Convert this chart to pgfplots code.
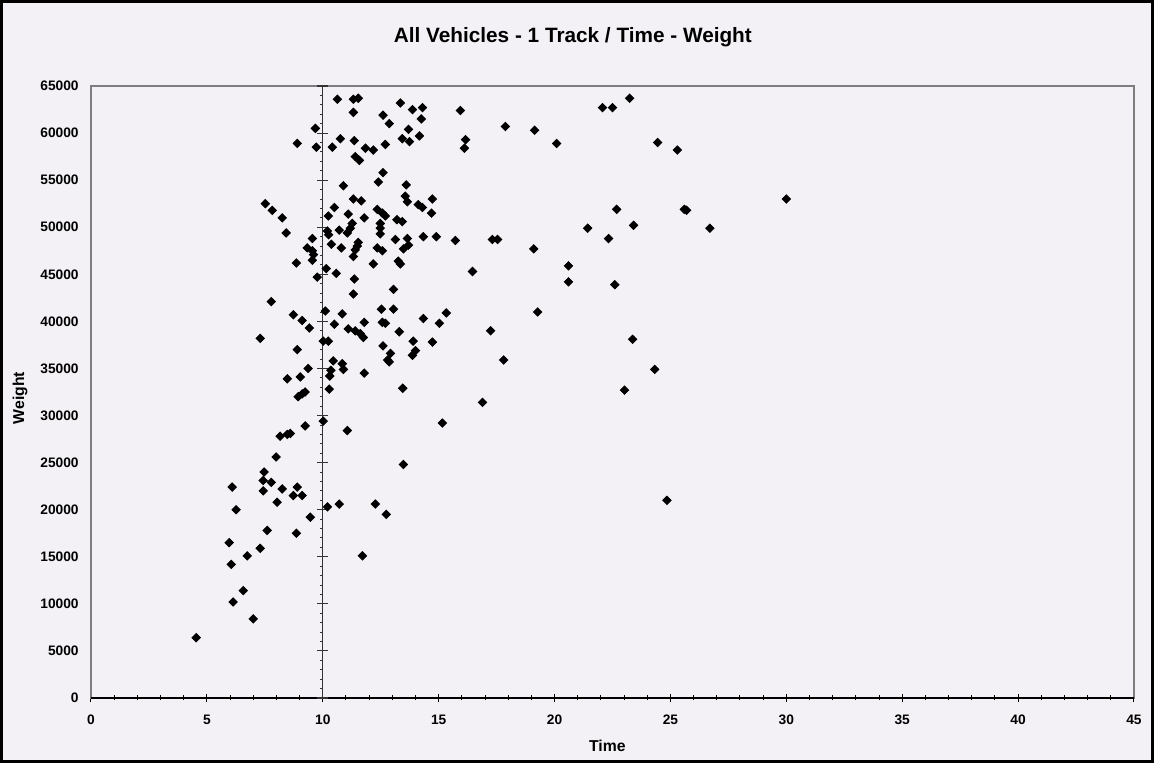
\documentclass[border=0pt]{standalone}
\usepackage{fontspec}
\setmainfont{Liberation Sans}
\usepackage{pgfplots}
\usepackage{pgfplotstable}
\pgfplotsset{compat=1.18}
\definecolor{paper}{RGB}{243,241,245}
\definecolor{framegray}{RGB}{125,125,125}

\pgfplotstableread{
x y
4.54 6400
5.96 16500
6.05 14200
6.09 22400
6.13 10200
6.26 20000
6.57 11400
6.74 15100
7.00 8400
7.30 15900
7.30 38200
7.43 22000
7.43 23100
7.47 24000
7.60 17800
7.78 22900
7.78 42100
7.99 25600
8.03 20800
8.16 27800
8.25 22200
8.47 28000
8.60 28100
8.73 21500
8.86 17500
8.90 22400
9.11 21500
9.46 19200
9.24 28900
8.94 32000
9.11 32300
9.24 32500
8.47 33900
9.03 34100
9.37 35000
8.90 37000
8.73 40700
9.11 40100
9.42 39300
7.52 52500
7.82 51800
8.25 51000
8.42 49400
8.86 46200
9.33 47800
9.55 47500
9.60 47100
9.55 46500
9.55 48800
9.76 44700
8.90 58900
9.68 60500
9.72 58500
10.02 29400
10.20 20300
10.71 20600
11.06 28400
10.28 32800
10.30 34200
10.35 34800
10.45 35800
10.84 35500
10.89 34900
10.02 37900
10.24 37900
10.11 41100
10.84 40800
10.50 39700
10.15 45600
10.58 45100
10.20 49600
10.25 49200
10.71 49700
11.06 49400
10.37 48200
10.80 47800
10.24 51200
10.50 52100
10.89 54400
10.63 63600
10.41 58500
10.76 59400
11.32 63600
11.53 63700
11.32 62200
11.36 59200
11.84 58400
12.18 58200
11.40 57500
11.58 57100
11.32 53000
11.66 52800
11.10 51400
11.79 51000
11.27 50400
11.19 49900
11.53 48400
11.49 48000
11.40 47600
11.32 46900
11.36 44500
11.32 42900
11.79 39900
11.10 39200
11.40 39000
11.62 38700
11.75 38300
11.79 34500
11.71 15100
12.27 20600
12.74 19500
13.48 24800
13.45 32900
12.60 37400
12.92 36600
12.80 35900
12.87 35700
12.57 39900
12.70 39800
12.53 41300
13.05 41300
13.30 38900
13.05 43400
12.18 46100
13.26 46400
13.35 46100
12.35 47800
12.57 47500
13.13 48700
12.48 50400
12.48 49900
12.48 49300
13.20 50800
13.43 50600
12.35 51900
12.57 51500
12.70 51200
12.60 55800
12.40 54800
12.70 58800
12.60 61900
12.87 61000
13.35 63200
13.43 59400
13.74 59100
13.70 60400
13.60 54500
13.56 53300
13.65 52700
14.12 52400
14.30 52100
14.73 53000
14.69 51500
13.65 48800
13.70 48100
13.48 47700
14.34 49000
14.90 49000
15.72 48600
13.90 37900
14.73 37800
14.00 36900
13.87 36400
14.34 40300
15.33 40900
15.03 39800
15.16 29200
13.87 62500
14.30 62700
15.94 62400
14.25 61500
14.17 59700
16.16 59300
16.11 58400
16.46 45300
16.89 31400
17.88 60700
19.14 60300
20.09 58900
17.32 48700
17.54 48700
19.10 47700
17.24 39000
17.80 35900
19.27 41000
20.60 45900
20.60 44200
21.43 49900
22.07 62700
22.50 62700
23.24 63700
22.68 51900
23.41 50200
22.33 48800
22.60 43900
23.37 38100
24.32 34900
23.02 32700
24.45 59000
25.30 58200
25.60 51900
25.70 51800
26.70 49900
30.00 53000
24.85 21000
}\datatable

\begin{document}
\begin{tikzpicture}
\fill[paper] (0,0) rectangle (461.6pt,305.2pt);
\useasboundingbox (0,0) rectangle (461.6pt,305.2pt);
\begin{axis}[
  at={(36.4pt,26pt)}, anchor=south west,
  scale only axis, width=417.2pt, height=244.8pt,
  xmin=0, xmax=45, ymin=0, ymax=65000,
  xtick={0,5,...,45}, minor x tick num=4,
  ytick={0,5000,...,65000},
  scaled y ticks=false,
  /pgf/number format/assume math mode=true,
  y tick label style={/pgf/number format/1000 sep={}},
  tick label style={font=\bfseries\fontsize{5.5}{6.5}\selectfont},
  xtick pos=left,
  tick align=center,
  major tick length=3.5pt, minor tick length=2pt,
  xtick style={black, line width=0.4pt},
  minor x tick style={black, line width=0.4pt},
  ytick style={draw=none},
  yticklabel style={inner sep=0pt, xshift=-3pt},
  xticklabel style={inner sep=0pt, yshift=-5pt},
  axis line style={draw=framegray, line width=0.5pt},
  title={All Vehicles - 1 Track / Time - Weight},
  title style={at={(axis description cs:0.462,1.055)}, anchor=center, yshift=0pt,
    font=\bfseries\fontsize{8.3}{9.5}\selectfont},
  xlabel={Time},
  xlabel style={at={(axis description cs:0.495,-0.078)}, anchor=center,
    font=\bfseries\fontsize{6.3}{7}\selectfont},
  ylabel={Weight},
  ylabel style={at={(axis description cs:-0.068,0.49)}, anchor=center,
    font=\bfseries\fontsize{6.3}{7}\selectfont},
  clip=false,
]
\draw[black, line width=0.9pt] (rel axis cs:0,0) -- (rel axis cs:1,0);
\draw[black!80, line width=0.5pt] (axis cs:10,0) -- (axis cs:10,65000);
\pgfplotsinvokeforeach{1,2,...,64}{
  \draw[black!80, line width=0.35pt] (axis cs:10,#1000) -- ++(-1.3pt,0);
}
\pgfplotsinvokeforeach{0,5,...,65}{
  \draw[black!80, line width=0.45pt] (axis cs:10,#1000) ++(-2.2pt,0) -- ++(4.4pt,0);
}
\addplot[only marks, mark=square*, mark size=1.15pt,
  mark options={rotate=45, fill=black, draw=black}] table {\datatable};
\end{axis}
\draw[black, line width=1.2pt] (0.6pt,0.6pt) rectangle (461pt,304.6pt);
\end{tikzpicture}
\end{document}
